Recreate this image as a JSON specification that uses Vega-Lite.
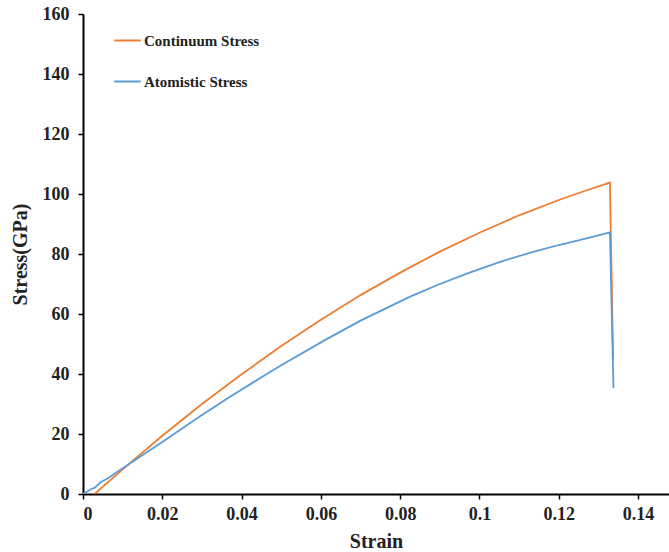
{
  "$schema": "https://vega.github.io/schema/vega-lite/v6.json",
  "autosize": "none",
  "width": 586,
  "height": 480,
  "padding": {"left": 83, "top": 14, "right": 0, "bottom": 58},
  "background": "white",
  "config": {
    "view": {"stroke": null},
    "font": "Liberation Serif",
    "axis": {"grid": false, "domainColor": "black", "domainWidth": 2, "tickColor": "black", "tickWidth": 1.5, "tickSize": 5,
      "labelFont": "Liberation Serif", "labelFontWeight": "bold", "labelFontSize": 18, "labelColor": "#222",
      "titleFont": "Liberation Serif", "titleFontWeight": "bold", "titleFontSize": 20, "titleColor": "#222"}
  },
  "data": {"values": [
    {"s": "Continuum Stress", "i": 0, "x": 0.0029, "y": 0},
    {"s": "Continuum Stress", "i": 1, "x": 0.01, "y": 8.2},
    {"s": "Continuum Stress", "i": 2, "x": 0.02, "y": 19.4},
    {"s": "Continuum Stress", "i": 3, "x": 0.03, "y": 30.0},
    {"s": "Continuum Stress", "i": 4, "x": 0.04, "y": 39.9},
    {"s": "Continuum Stress", "i": 5, "x": 0.05, "y": 49.3},
    {"s": "Continuum Stress", "i": 6, "x": 0.06, "y": 58.1},
    {"s": "Continuum Stress", "i": 7, "x": 0.07, "y": 66.3},
    {"s": "Continuum Stress", "i": 8, "x": 0.08, "y": 73.8},
    {"s": "Continuum Stress", "i": 9, "x": 0.09, "y": 80.8},
    {"s": "Continuum Stress", "i": 10, "x": 0.10, "y": 87.1},
    {"s": "Continuum Stress", "i": 11, "x": 0.11, "y": 92.9},
    {"s": "Continuum Stress", "i": 12, "x": 0.12, "y": 98.0},
    {"s": "Continuum Stress", "i": 13, "x": 0.1265, "y": 101.0},
    {"s": "Continuum Stress", "i": 14, "x": 0.1329, "y": 103.8},
    {"s": "Continuum Stress", "i": 15, "x": 0.1337, "y": 45.0},
    {"s": "Atomistic Stress", "i": 0, "x": 0.0, "y": 0},
    {"s": "Atomistic Stress", "i": 1, "x": 0.002, "y": 1.6},
    {"s": "Atomistic Stress", "i": 2, "x": 0.003, "y": 2.1},
    {"s": "Atomistic Stress", "i": 3, "x": 0.0045, "y": 4.0},
    {"s": "Atomistic Stress", "i": 4, "x": 0.006, "y": 5.0},
    {"s": "Atomistic Stress", "i": 5, "x": 0.01, "y": 8.6},
    {"s": "Atomistic Stress", "i": 6, "x": 0.0144, "y": 12.4},
    {"s": "Atomistic Stress", "i": 7, "x": 0.02, "y": 17.3},
    {"s": "Atomistic Stress", "i": 8, "x": 0.03, "y": 26.3},
    {"s": "Atomistic Stress", "i": 9, "x": 0.0371, "y": 32.4},
    {"s": "Atomistic Stress", "i": 10, "x": 0.045, "y": 38.9},
    {"s": "Atomistic Stress", "i": 11, "x": 0.05, "y": 42.9},
    {"s": "Atomistic Stress", "i": 12, "x": 0.061, "y": 51.3},
    {"s": "Atomistic Stress", "i": 13, "x": 0.07, "y": 57.8},
    {"s": "Atomistic Stress", "i": 14, "x": 0.0825, "y": 65.8},
    {"s": "Atomistic Stress", "i": 15, "x": 0.09, "y": 70.0},
    {"s": "Atomistic Stress", "i": 16, "x": 0.0975, "y": 73.8},
    {"s": "Atomistic Stress", "i": 17, "x": 0.1052, "y": 77.4},
    {"s": "Atomistic Stress", "i": 18, "x": 0.114, "y": 80.9},
    {"s": "Atomistic Stress", "i": 19, "x": 0.12, "y": 83.0},
    {"s": "Atomistic Stress", "i": 20, "x": 0.127, "y": 85.2},
    {"s": "Atomistic Stress", "i": 21, "x": 0.1329, "y": 87.2},
    {"s": "Atomistic Stress", "i": 22, "x": 0.1338, "y": 35.3}
  ]},
  "mark": {"type": "line", "strokeWidth": 1.8, "clip": true},
  "encoding": {
    "x": {"field": "x", "type": "quantitative", "title": "Strain",
      "scale": {"domain": [0, 0.1478], "nice": false, "zero": false},
      "axis": {"values": [0, 0.02, 0.04, 0.06, 0.08, 0.1, 0.12, 0.14], "format": "~g", "labelPadding": 6, "titlePadding": 8}},
    "y": {"field": "y", "type": "quantitative", "title": "Stress(GPa)",
      "scale": {"domain": [0, 160], "nice": false},
      "axis": {"values": [0, 20, 40, 60, 80, 100, 120, 140, 160], "labelPadding": 9, "titlePadding": 12}},
    "color": {"field": "s", "type": "nominal",
      "scale": {"domain": ["Continuum Stress", "Atomistic Stress"], "range": ["#ED7D31", "#5B9BD5"]},
      "legend": {"title": null, "orient": "none", "legendX": 30, "legendY": 12, "symbolType": "stroke", "symbolSize": 700, "symbolStrokeWidth": 2,
        "labelFont": "Liberation Serif", "labelFontWeight": "bold", "labelFontSize": 15, "labelColor": "#222", "rowPadding": 18, "labelOffset": 2}},
    "order": {"field": "i", "type": "quantitative"}
  }
}
